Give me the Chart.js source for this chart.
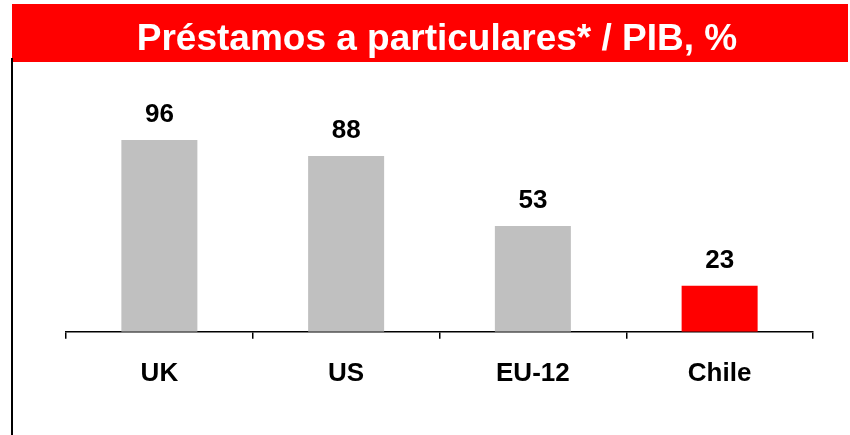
<!DOCTYPE html>
<html>
<head>
<meta charset="utf-8">
<script src="https://cdn.jsdelivr.net/npm/chart.js@4"></script>
<style>
  html, body { margin: 0; padding: 0; background: #fff; }
  #wrap { width: 850px; height: 435px; position: relative; }
</style>
</head>
<body>
<div id="wrap"><canvas id="loansChart"></canvas></div>
<script>
// data
const categories = ['UK', 'US', 'EU-12', 'Chile'];
const loanValues = [96, 88, 53, 23];
const barColors = ['#c0c0c0', '#c0c0c0', '#c0c0c0', '#ff0000'];
const titleText = 'Préstamos a particulares* / PIB, %';

const FONT = '"Liberation Sans", Arial, sans-serif';

// red banner with title + left vertical rule
const bannerPlugin = {
    id: 'banner',
    beforeDraw(chart) {
        const ctx = chart.ctx;
        ctx.save();
        ctx.fillStyle = '#ff0000';
        ctx.fillRect(12, 4, 836, 58);
        ctx.fillStyle = '#ffffff';
        ctx.font = 'bold 37px ' + FONT;
        ctx.textAlign = 'center';
        ctx.textBaseline = 'alphabetic';
        ctx.fillText(titleText, 437, 50);
        ctx.strokeStyle = '#000000';
        ctx.lineWidth = 2;
        ctx.beginPath();
        ctx.moveTo(12, 58);
        ctx.lineTo(12, 435);
        ctx.stroke();
        ctx.restore();
    }
};

// value labels above the bars
const valueLabels = {
    id: 'valueLabels',
    afterDatasetsDraw(chart) {
        const ctx = chart.ctx;
        const meta = chart.getDatasetMeta(0);
        ctx.save();
        ctx.fillStyle = '#000';
        ctx.font = 'bold 26px ' + FONT;
        ctx.textAlign = 'center';
        ctx.textBaseline = 'alphabetic';
        meta.data.forEach((bar, i) => {
            ctx.fillText(String(loanValues[i]), bar.x, bar.y - 18);
        });
        ctx.restore();
    }
};

new Chart(document.getElementById('loansChart'), {
    type: 'bar',
    data: {
        labels: categories,
        datasets: [{
            data: loanValues,
            backgroundColor: barColors,
            borderWidth: 0,
            categoryPercentage: 1,
            barPercentage: 0.407
        }]
    },
    options: {
        responsive: true,
        maintainAspectRatio: false,
        animation: false,
        layout: { padding: { left: 66, right: 37, top: 132, bottom: 27 } },
        plugins: {
            legend: { display: false },
            tooltip: { enabled: false },
            title: { display: false }
        },
        scales: {
            y: { display: false, min: 0, max: 100 },
            x: {
                offset: true,
                border: { color: '#000', width: 1.5 },
                grid: {
                    offset: true,
                    drawOnChartArea: false,
                    drawTicks: true,
                    tickLength: 7,
                    color: '#000',
                    lineWidth: 1.5
                },
                ticks: {
                    color: '#000',
                    padding: 19,
                    font: { family: FONT, size: 26, weight: 'bold' }
                }
            }
        }
    },
    plugins: [bannerPlugin, valueLabels]
});
</script>
</body>
</html>
